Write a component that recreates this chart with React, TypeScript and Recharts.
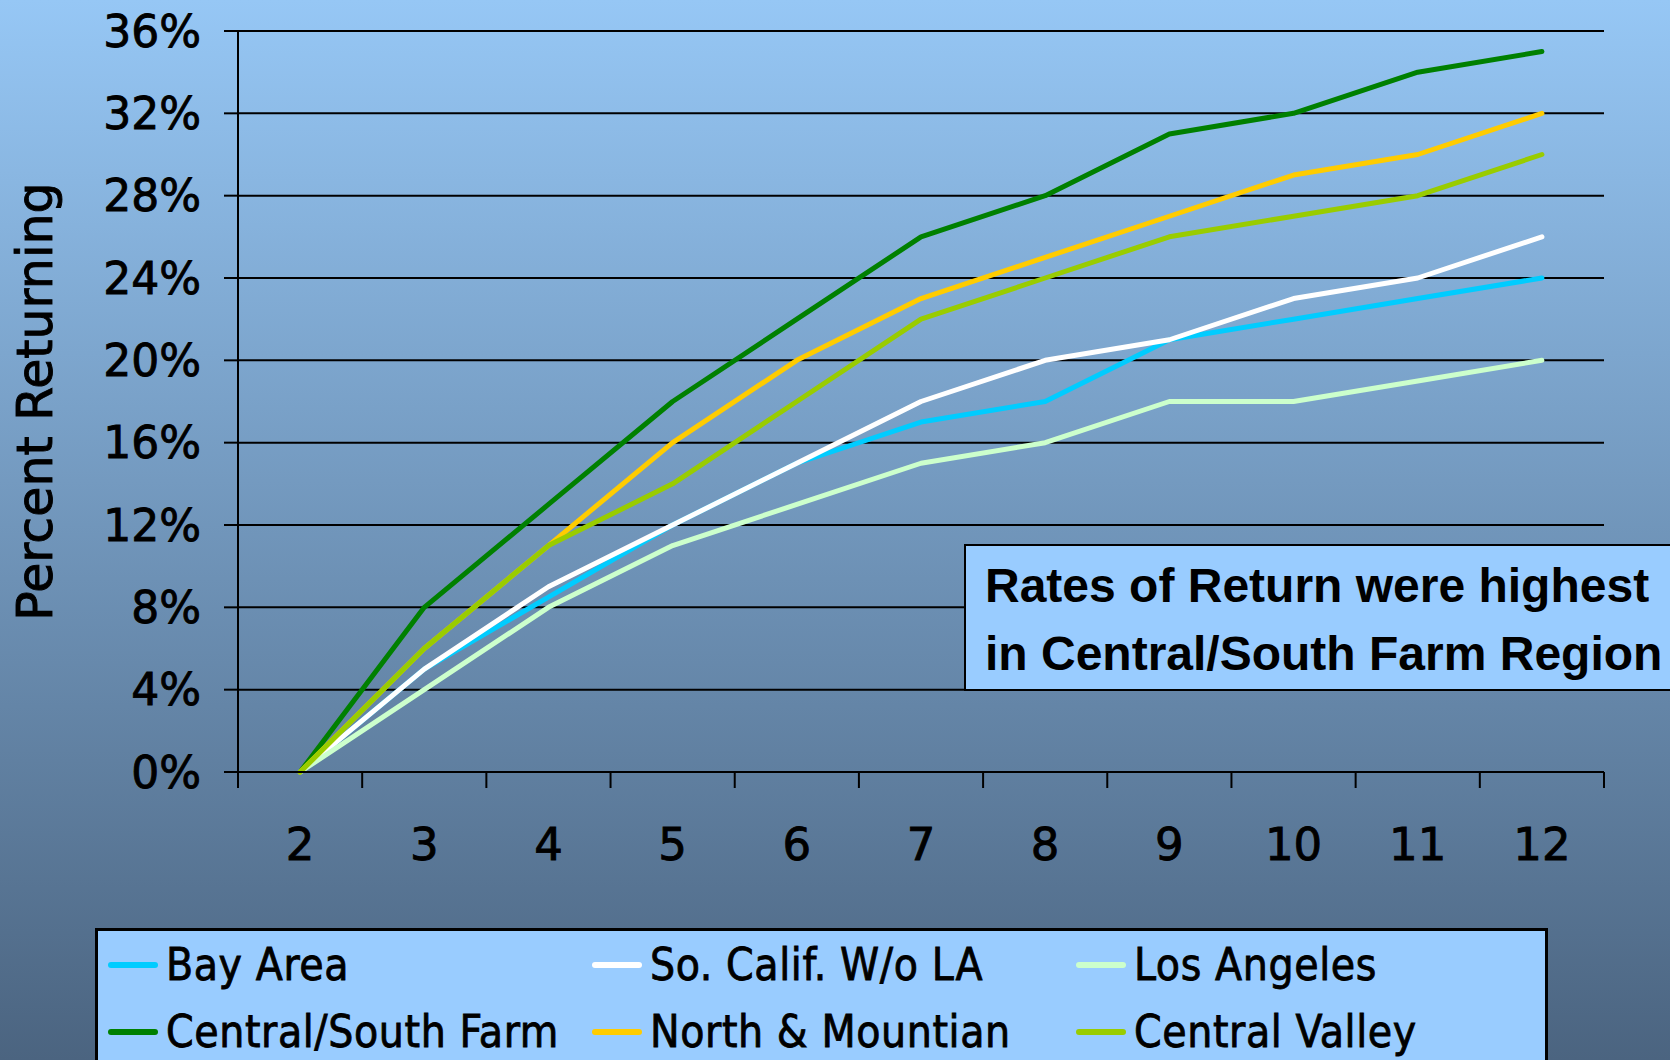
import { LineChart, Line, XAxis, YAxis, CartesianGrid } from "recharts";

// week number (x) and percent returning per region
const weeks = [2, 3, 4, 5, 6, 7, 8, 9, 10, 11, 12];
const bayArea = [0, 5, 8.5, 12, 15, 17, 18, 21, 22, 23, 24];
const soCalif = [0, 5, 9, 12, 15, 18, 20, 21, 23, 24, 26];
const losAngeles = [0, 4, 8, 11, 13, 15, 16, 18, 18, 19, 20];
const centralSouth = [0, 8, 13, 18, 22, 26, 28, 31, 32, 34, 35];
const northMountain = [0, 6, 11, 16, 20, 23, 25, 27, 29, 30, 32];
const centralValley = [0, 6, 11, 14, 18, 22, 24, 26, 27, 28, 30];
const yTicks = [0, 4, 8, 12, 16, 20, 24, 28, 32, 36];

const series = [
    { key: "bay", name: "Bay Area", color: "#00CCFF", values: bayArea },
    { key: "socal", name: "So. Calif. W/o LA", color: "#FFFFFF", values: soCalif },
    { key: "la", name: "Los Angeles", color: "#CCFFCC", values: losAngeles },
    { key: "csf", name: "Central/South Farm", color: "#008000", values: centralSouth },
    { key: "nm", name: "North & Mountian", color: "#FFCC00", values: northMountain },
    { key: "cv", name: "Central Valley", color: "#99CC00", values: centralValley },
];

const rows = weeks.map((w, i) => {
    const row: Record<string, number> = { week: w };
    series.forEach((s) => { row[s.key] = s.values[i]; });
    return row;
});

// label ticks on whole weeks, tick marks on the band edges in between
const xTicks: number[] = [];
weeks.forEach((w) => { xTicks.push(w - 0.5, w); });
xTicks.push(weeks[weeks.length - 1] + 0.5);

const X_GAP = 56;
const MARK = 16;

function WeekTick(props: any) {
    const { x, y, payload } = props;
    const v = payload.value as number;
    if (Number.isInteger(v)) {
        return (
            <text x={x} y={y} dy="0.71em" textAnchor="middle" fontSize={45} fontFamily="DejaVu Sans" fill="#000" stroke="#000" strokeWidth={0.9}>
                {v}
            </text>
        );
    }
    const axisY = y - X_GAP;
    return <line x1={x} x2={x} y1={axisY} y2={axisY + MARK} stroke="#000" strokeWidth={2} />;
}

function YTitle(props: any) {
    const vb = props.viewBox;
    const cx = 52;
    const cy = vb.y + vb.height / 2;
    return (
        <text x={cx} y={cy} transform={`rotate(-90, ${cx}, ${cy})`} textAnchor="middle" fontSize={49} fontFamily="DejaVu Sans" fill="#000" stroke="#000" strokeWidth={0.9}>
            Percent Returning
        </text>
    );
}

export default function App() {
    return (
        <div
            style={{
                position: "absolute",
                left: 0,
                top: 0,
                width: 1670,
                height: 1060,
                overflow: "hidden",
                background: "linear-gradient(to bottom, #96C7F5, #4B6480)",
            }}
        >
            <LineChart width={1670} height={1060} data={rows} margin={{ top: 31, right: 66, bottom: 188, left: 0 }}>
                <CartesianGrid vertical={false} stroke="#000" strokeWidth={2} />
                <XAxis
                    dataKey="week"
                    type="number"
                    domain={[1.5, 12.5]}
                    ticks={xTicks}
                    interval={0}
                    height={100}
                    tickLine={false}
                    tickSize={0}
                    tickMargin={X_GAP}
                    axisLine={{ stroke: "#000", strokeWidth: 2 }}
                    tick={<WeekTick />}
                />
                <YAxis
                    type="number"
                    domain={[0, 36]}
                    ticks={yTicks}
                    interval={0}
                    width={238}
                    tickSize={14}
                    tickMargin={23}
                    tickFormatter={(v: number) => `${v}%`}
                    tick={{ fill: "#000", fontSize: 44, fontFamily: "DejaVu Sans", stroke: "#000", strokeWidth: 0.9 }}
                    tickLine={{ stroke: "#000", strokeWidth: 2 }}
                    axisLine={{ stroke: "#000", strokeWidth: 2 }}
                    label={{ content: <YTitle /> }}
                />
                {series.map((s) => (
                    <Line
                        key={s.key}
                        dataKey={s.key}
                        name={s.name}
                        type="linear"
                        stroke={s.color}
                        strokeWidth={5}
                        strokeLinecap="round"
                        strokeLinejoin="round"
                        dot={false}
                        activeDot={false}
                        isAnimationActive={false}
                    />
                ))}
            </LineChart>

            {/* note box, runs off the right edge like the slide */}
            <div
                style={{
                    position: "absolute",
                    left: 964,
                    top: 544,
                    width: 760,
                    height: 147,
                    boxSizing: "border-box",
                    border: "2px solid #000",
                    background: "#99CCFF",
                    padding: "6px 0 0 19px",
                    fontFamily: "'Liberation Sans', Arial, sans-serif",
                    fontWeight: 700,
                    fontSize: 48,
                    lineHeight: "68px",
                    color: "#000",
                    whiteSpace: "nowrap",
                }}
            >
                Rates of Return were highest
                <br />
                in Central/South Farm Region
            </div>

            {/* legend */}
            <div
                style={{
                    position: "absolute",
                    left: 95,
                    top: 928,
                    width: 1453,
                    height: 200,
                    boxSizing: "border-box",
                    border: "3px solid #000",
                    background: "#99CCFF",
                }}
            >
                {series.map((s, i) => (
                    <div
                        key={s.key}
                        style={{
                            position: "absolute",
                            left: 10 + (i % 3) * 484,
                            top: Math.floor(i / 3) * 67,
                            height: 67,
                            display: "flex",
                            alignItems: "center",
                            whiteSpace: "nowrap",
                        }}
                    >
                        <span style={{ width: 50, height: 6, borderRadius: 3, background: s.color, marginRight: 8 }} />
                        <span
                            style={{
                                fontFamily: "'DejaVu Sans Condensed', 'DejaVu Sans', sans-serif",
                                fontStretch: "condensed",
                                fontSize: 44,
                                letterSpacing: 0.6,
                                WebkitTextStroke: "0.8px #000",
                                color: "#000",
                            }}
                        >
                            {s.name}
                        </span>
                    </div>
                ))}
            </div>
        </div>
    );
}
